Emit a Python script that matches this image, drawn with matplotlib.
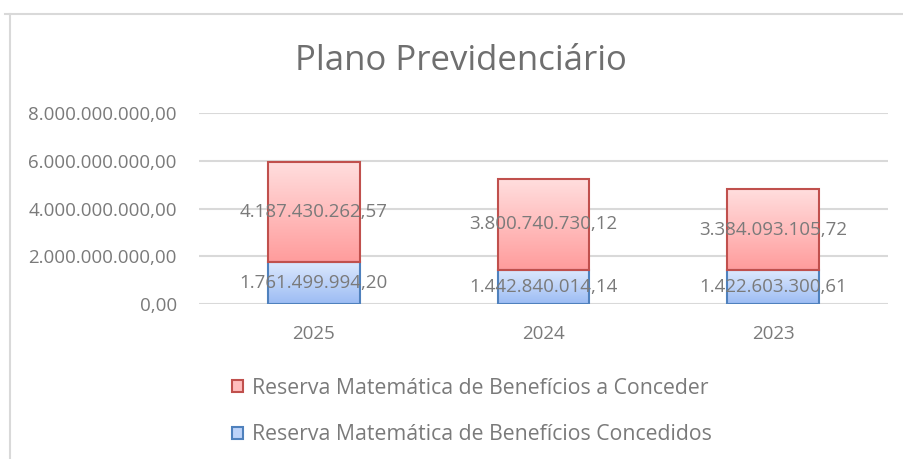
import matplotlib
matplotlib.use("Agg")
import matplotlib.pyplot as plt
import numpy as np
from matplotlib.patches import Rectangle
from matplotlib.lines import Line2D
from matplotlib.colors import LinearSegmentedColormap

plt.rcParams['font.family'] = ['Open Sans', 'DejaVu Sans']

categories = ['2025', '2024', '2023']
concedidos = [1761499994.20, 1442840014.14, 1422603300.61]
a_conceder = [4187430262.57, 3800740730.12, 3384093105.72]
yticks = [0, 2e9, 4e9, 6e9, 8e9]
title = 'Plano Previdenciário'
label_conceder = 'Reserva Matemática de Benefícios a Conceder'
label_concedidos = 'Reserva Matemática de Benefícios Concedidos'

TEXT = '#7a7a7a'
GRID = '#d9d9d9'
RED_TOP, RED_BOT, RED_EDGE = '#ffdede', '#ff9c9c', '#c0504d'
BLUE_TOP, BLUE_BOT, BLUE_EDGE = '#dde9fd', '#9cbcf4', '#4f81bd'


def fmt_br(v):
    s = f"{v:,.2f}"
    return s.replace(',', 'X').replace('.', ',').replace('X', '.')


W, H = 904, 459
fig = plt.figure(figsize=(W / 100, H / 100), dpi=100)
ax = fig.add_axes([199 / W, 1 - 304 / H, (888 - 199) / W, (304 - 113) / H])

x = np.arange(len(categories))
bw = 0.40
b1 = ax.bar(x, concedidos, bw, facecolor='none', edgecolor=BLUE_EDGE, linewidth=1.5, zorder=3)
b2 = ax.bar(x, a_conceder, bw, bottom=concedidos, facecolor='none', edgecolor=RED_EDGE, linewidth=1.5, zorder=3)


def grad_fill(bars, top, bot):
    cmap = LinearSegmentedColormap.from_list('g', [bot, top])
    grad = np.linspace(0, 1, 256).reshape(-1, 1)
    for p in bars:
        x0, y0 = p.get_x(), p.get_y()
        w, h = p.get_width(), p.get_height()
        im = ax.imshow(grad, cmap=cmap, origin='lower', aspect='auto',
                       extent=[x0, x0 + w, y0, y0 + h], zorder=2.5)
        clip = Rectangle((x0, y0), w, h, transform=ax.transData)
        im.set_clip_path(clip)


grad_fill(b1, BLUE_TOP, BLUE_BOT)
grad_fill(b2, RED_TOP, RED_BOT)

ax.set_xlim(-0.5, len(categories) - 0.5)
ax.set_ylim(0, 8e9)
ax.set_yticks(yticks)
ax.set_yticklabels([fmt_br(v) for v in yticks])
ax.set_xticks(x)
ax.set_xticklabels(categories)
ax.tick_params(axis='both', length=0, labelsize=13.5, colors=TEXT)
ax.tick_params(axis='y', pad=16)
ax.tick_params(axis='x', pad=15)
for s in ax.spines.values():
    s.set_visible(False)
ax.grid(axis='y', color=GRID, linewidth=1.5, zorder=0)
ax.set_axisbelow(True)

for i in range(len(categories)):
    ax.text(x[i], concedidos[i] / 2, fmt_br(concedidos[i]), ha='center', va='center',
            fontsize=13.5, color=TEXT, zorder=5)
    ax.text(x[i], concedidos[i] + a_conceder[i] / 2, fmt_br(a_conceder[i]), ha='center', va='center',
            fontsize=13.5, color=TEXT, zorder=5)

fig.text(461 / W, 1 - 61 / H, title, ha='center', va='center', fontsize=25, color='#6f6f6f')

# chart border
fig.add_artist(Line2D([5 / W, 1], [1 - 14 / H, 1 - 14 / H], color=GRID, linewidth=1.5))
fig.add_artist(Line2D([10 / W, 10 / W], [0, 1 - 14 / H], color=GRID, linewidth=1.5))

handles = [Rectangle((0, 0), 1, 1, facecolor='#ffbdbd', edgecolor=RED_EDGE, linewidth=1.5),
           Rectangle((0, 0), 1, 1, facecolor='#bdd3f9', edgecolor=BLUE_EDGE, linewidth=1.5)]
fig.legend(handles, [label_conceder, label_concedidos], loc='upper left',
           bbox_to_anchor=(223.5 / W, 1 - 369 / H), frameon=False, fontsize=15.3,
           labelcolor=TEXT, handlelength=0.52, handleheight=0.52, handletextpad=0.42,
           labelspacing=1.22, borderaxespad=0)

fig.savefig('out.png', dpi=100)
